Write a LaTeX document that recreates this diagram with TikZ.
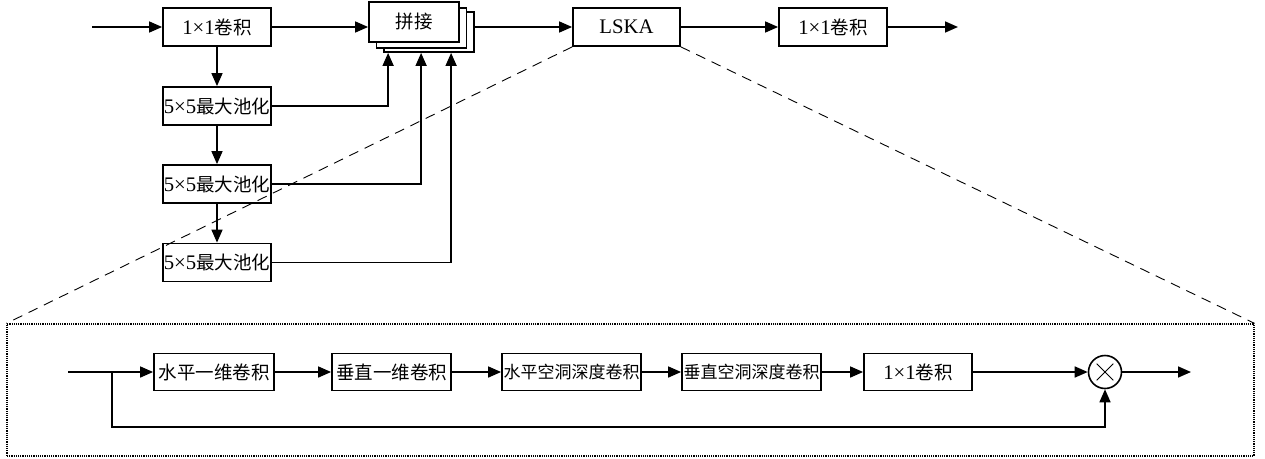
\documentclass[tikz,border=0pt]{standalone}
\usepackage{fontspec}
\setmainfont{Liberation Serif}[Scale=1.12]
\newfontfamily\cjk{Noto Sans CJK SC}
\usetikzlibrary{arrows.meta,calc}
\tikzset{
  box/.style={draw, line width=1.8pt, fill=white, inner sep=0pt, minimum height=38pt, font=\fontsize{18.5}{20}\selectfont},
  arr/.style={line width=1.6pt, -{Triangle[length=13pt,width=11pt]}},
  ln/.style={line width=1.6pt},
  zoomline/.style={line width=0.9pt, dash pattern=on 10pt off 7pt},
  frame/.style={draw, line width=1.2pt, densely dotted, inner sep=0pt}
}
\begin{document}
\begin{tikzpicture}[x=1pt,y=-1pt]
\useasboundingbox (0,0) rectangle (1265,458);
% top row
\coordinate (in1) at (92,27);
\node[box, minimum width=108pt] (a) at (217,27) {1×1{\cjk 卷积}};
\node[box, minimum width=90pt, minimum height=40pt] (c3) at (429,32) {};
\node[box, minimum width=90pt, minimum height=40pt] (c2) at (421.5,28) {};
\node[box, minimum width=90pt, minimum height=40pt] (c1) at (414,22) {\cjk 拼接};
\node[box, minimum width=107pt] (lska) at (626.5,27) {LSKA};
\node[box, minimum width=108pt] (f) at (833,27) {1×1{\cjk 卷积}};
\coordinate (out1) at (958,27);
\node[box, minimum width=108pt] (p1) at (217,106) {5×5{\cjk 最大池化}};
\node[box, minimum width=108pt] (p2) at (217,184) {5×5{\cjk 最大池化}};
\node[box, minimum width=108pt] (p3) at (217,262.5) {5×5{\cjk 最大池化}};
\draw[arr] (in1) -- (a);
\draw[arr] (a) -- (c1.west |- a);
\draw[arr] (c3.east |- lska) -- (lska);
\draw[arr] (lska) -- (f);
\draw[arr] (f) -- (out1);
\draw[arr] (a) -- (p1);
\draw[arr] (p1) -- (p2);
\draw[arr] (p2) -- (p3);
\draw[arr] (p1.east) -| ([xshift=5pt]c3.south west);
\draw[arr] (p2.east) -| ([xshift=38pt]c3.south west);
\draw[arr] (p3.east) -| ([xshift=68pt]c3.south west);
% LSKA detail frame
\node[frame, minimum width=1247pt, minimum height=132pt] (fr) at (630.5,390) {};
\draw[zoomline] (lska.south west) -- (fr.north west);
\draw[zoomline] (lska.south east) -- (fr.north east);
% bottom row
\coordinate (in2) at (68,372);
\coordinate (br) at (112,372);
\coordinate (lp) at (112,427);
\node[box, minimum width=120pt, minimum height=37pt] (b1) at (214,372) {\cjk 水平一维卷积};
\node[box, minimum width=119pt, minimum height=37pt] (b2) at (391.5,372) {\cjk 垂直一维卷积};
\node[box, minimum width=139pt, minimum height=37pt, font=\fontsize{17}{19}\selectfont] (b3) at (571.5,372) {\cjk 水平空洞深度卷积};
\node[box, minimum width=139pt, minimum height=37pt, font=\fontsize{17}{19}\selectfont] (b4) at (751.5,372) {\cjk 垂直空洞深度卷积};
\node[box, minimum width=108pt, minimum height=37pt] (b5) at (918,372) {1×1{\cjk 卷积}};
\node[draw, circle, line width=1.6pt, minimum size=33pt, inner sep=0pt] (mul) at (1105,372) {};
\coordinate (out2) at (1191,372);
\draw[line width=1pt] ($(mul.center)!0.68!(mul.45)$) -- ($(mul.center)!0.68!(mul.225)$);
\draw[line width=1pt] ($(mul.center)!0.68!(mul.135)$) -- ($(mul.center)!0.68!(mul.315)$);
\draw[ln] (in2) -- (br);
\draw[arr] (br) -- (b1);
\draw[arr] (b1) -- (b2);
\draw[arr] (b2) -- (b3);
\draw[arr] (b3) -- (b4);
\draw[arr] (b4) -- (b5);
\draw[arr] (b5) -- (mul);
\draw[arr] (mul) -- (out2);
\draw[arr] (br) -- (lp) -| (mul.south);
\end{tikzpicture}
\end{document}
